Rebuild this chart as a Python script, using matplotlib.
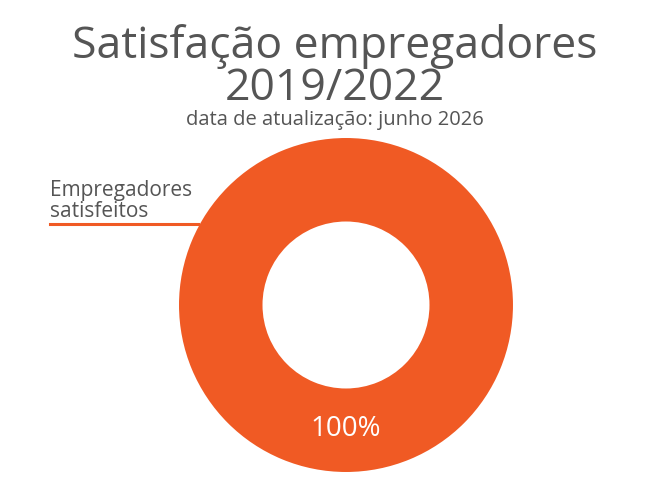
import matplotlib.pyplot as plt

categories = ['Empregadores\nsatisfeitos']
values = [100]
pct_labels = ['100%']

orange = '#F05A24'
grey = '#555555'
plt.rcParams['font.family'] = ['Open Sans', 'DejaVu Sans']

fig = plt.figure(figsize=(6.5, 5), dpi=100)
ax = fig.add_axes([0.2754, 0.056, 0.5138, 0.668])
wedges, _ = ax.pie(values, radius=1, startangle=90, colors=[orange],
                   wedgeprops=dict(width=0.5, edgecolor='white', linewidth=0))
ax.set_xlim(-1, 1)
ax.set_ylim(-1, 1)
ax.set_aspect('equal')
ax.axis('off')

# percentage label inside the ring, at the bottom
fig.text(346 / 650, 1 - 436 / 500, pct_labels[0], ha='center', va='baseline',
         color='white', fontsize=20)

# outside label with leader line
fig.text(50 / 650, 1 - 201 / 500, categories[0], ha='left', va='center',
         color=grey, fontsize=15, linespacing=0.95)
fig.add_artist(plt.Line2D([50 / 650, 198 / 650], [1 - 224 / 500, 1 - 224 / 500],
                          color=orange, linewidth=2.2))

fig.text(335 / 650, 1 - 58 / 500, 'Satisfação empregadores', ha='center', va='baseline',
         color=grey, fontsize=32)
fig.text(335 / 650, 1 - 100 / 500, '2019/2022', ha='center', va='baseline',
         color=grey, fontsize=32)
fig.text(335 / 650, 1 - 125 / 500, 'data de atualização: junho 2026', ha='center',
         va='baseline', color=grey, fontsize=14.5)

fig.savefig('out.png', dpi=100)
